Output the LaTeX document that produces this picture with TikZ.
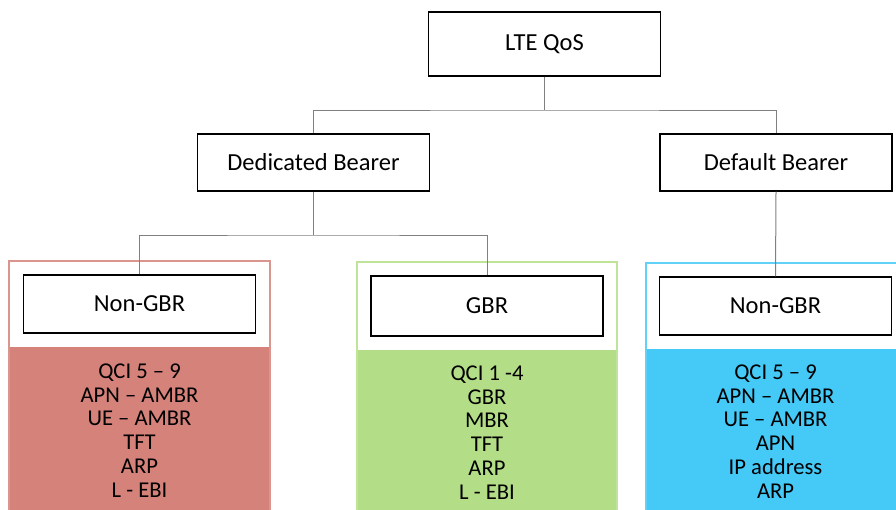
\documentclass[tikz,border=0pt]{standalone}
\usepackage{fontspec}
\setmainfont{Carlito}
\definecolor{nonred}{HTML}{D5827B}
\definecolor{gbrgreen}{HTML}{B3DE87}
\definecolor{defblue}{HTML}{45C9F7}
\definecolor{linkgray}{HTML}{808080}

\begin{document}
\begin{tikzpicture}[x=1pt,y=-1pt,
		box/.style={draw=black,line width=1.4pt,fill=white,minimum width=232pt,minimum height=58pt,inner sep=0pt,font=\fontsize{24.5}{28}\selectfont},
		link/.style={draw=linkgray,line width=1pt},
		params/.style={align=center,inner sep=0pt,font=\fontsize{22.6}{23.8}\selectfont}]

		\useasboundingbox (0,0) rectangle (896,509);
		\clip (0,0) rectangle (896,509);

		% Контейнеры
		\foreach \xl/\xr/\yt/\yf/\col in {9/270/261/347/nonred, 357/617/262/350/gbrgreen, 646/905/263/349/defblue} {
				\fill[\col] (\xl,\yf) rectangle (\xr,520);
				\draw[\col!85!white, line width=1.6pt] (\xl,520) -- (\xl,\yt) -- (\xr,\yt) -- (\xr,520);
			}

		% Уровни дерева
		\node[box,minimum height=64pt] (lte) at (544.5,44) {LTE QoS};
		\node[box,minimum height=57pt] (ded) at (313.5,162.5) {Dedicated Bearer};
		\node[box,minimum height=57pt] (dfl) at (776,162.5) {Default Bearer};
		\node[box] (ngbr) at (139.5,304) {Non-GBR};
		\node[box,minimum height=60pt] (gbr) at (487,306) {GBR};
		\node[box] (dngbr) at (775.5,306) {Non-GBR};

		% Параметры
		\node[params] (ngbrlist) at (139.5,430.5) {QCI 5 – 9\\APN – AMBR\\UE – AMBR\\TFT\\ARP\\L - EBI};
		\node[params] (gbrlist) at (487,432.5) {QCI 1 -4\\GBR\\MBR\\TFT\\ARP\\L - EBI};
		\node[params] (dngbrlist) at (775.5,431.5) {QCI 5 – 9\\APN – AMBR\\UE – AMBR\\APN\\IP address\\ARP};

		% Связи
		\coordinate (top) at (544.5,110);
		\coordinate (mid) at (313.5,235);
		\draw[link] (lte.south) -- (top);
		\draw[link] (ded.north) |- (top) -| (dfl.north);
		\draw[link] (ded.south) -- (mid);
		\draw[link] (ngbr.north) |- (mid) -| (gbr.north);
		\draw[link] (dfl.south) -- (dngbr.north);
	\end{tikzpicture}
\end{document}
